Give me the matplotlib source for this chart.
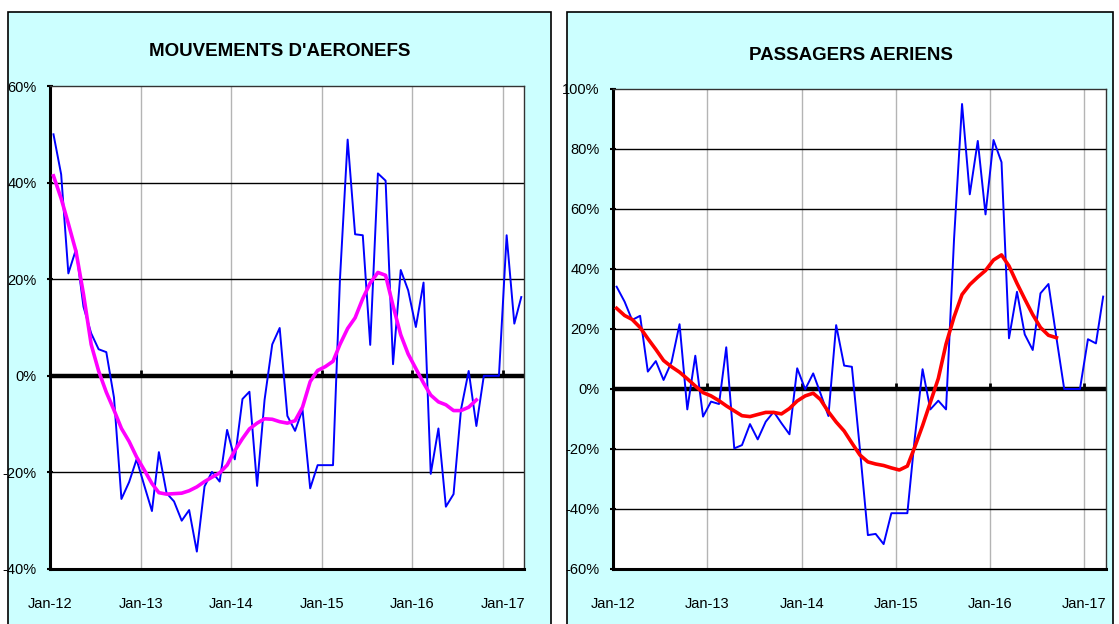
import matplotlib
matplotlib.use('AGG')
import matplotlib.pyplot as plt
import matplotlib.dates as mdates
from matplotlib.patches import Rectangle
from matplotlib.ticker import FuncFormatter, MultipleLocator
import pandas as pd

# monthly series, Jan-12 .. Mar-17 (in %)
mouvements = [50.0, 41.7, 21.2, 26.2, 14.3, 8.8, 5.5, 4.9, -4.5, -25.5,
              -22.0, -17.3, -22.7, -28.0, -15.8, -24.3, -26.0, -30.0, -27.8, -36.4,
              -22.9, -19.9, -21.9, -11.2, -17.3, -4.8, -3.3, -22.8, -5.0, 6.5,
              9.9, -8.3, -11.4, -7.0, -23.3, -18.5, -18.5, -18.5, 20.0, 48.9,
              29.3, 29.1, 6.4, 41.9, 40.4, 2.4, 21.9, 17.7, 10.1, 19.3,
              -20.3, -10.9, -27.1, -24.5, -7.0, 1.0, -10.4, 0.0, 0.0, 0.0,
              29.1, 10.8, 16.3]
mouvements_lisse = [41.4, 36.7, 31.5, 25.7, 16.9, 6.5, 1.0, -3.4, -7.1, -10.9,
                    -13.6, -16.8, -19.5, -22.3, -24.2, -24.5, -24.4, -24.3, -23.8, -23.0,
                    -21.9, -21.0, -20.1, -18.5, -15.5, -13.0, -11.0, -9.8, -8.9, -9.0,
                    -9.5, -9.8, -9.3, -6.5, -1.2, 1.1, 1.9, 3.0, 6.5, 9.8,
                    12.0, 16.0, 19.2, 21.4, 20.8, 14.5, 8.5, 4.5, 1.5, -1.5,
                    -4.0, -5.4, -6.0, -7.2, -7.2, -6.5, -5.0]

passagers = [34.1, 29.1, 23.0, 24.4, 5.8, 9.3, 3.0, 9.0, 21.6, -6.8,
             11.1, -9.2, -4.2, -5.0, 13.9, -19.8, -18.7, -11.7, -16.8, -10.9,
             -7.6, -11.4, -15.1, 6.9, -0.1, 5.2, -1.4, -9.0, 21.3, 7.8,
             7.4, -20.0, -48.7, -48.3, -51.7, -41.4, -41.4, -41.4, -17.0, 6.6,
             -6.8, -3.9, -6.8, 50.0, 95.0, 64.9, 82.7, 58.2, 83.0, 75.6,
             16.9, 32.4, 18.2, 13.0, 31.9, 35.0, 17.0, 0.0, 0.0, 0.0,
             16.6, 15.2, 30.8]
passagers_lisse = [26.9, 24.5, 23.2, 20.5, 16.8, 13.2, 9.5, 7.4, 5.6, 3.4,
                   1.0, -1.2, -2.3, -3.9, -5.6, -7.3, -8.9, -9.2, -8.5, -7.8,
                   -7.8, -8.3, -6.5, -4.0, -2.3, -1.4, -3.5, -7.6, -11.0, -14.0,
                   -18.0, -22.0, -24.3, -25.0, -25.5, -26.3, -27.0, -25.7, -19.5, -12.2,
                   -4.5, 3.5, 15.0, 24.0, 31.5, 34.8, 37.3, 39.5, 43.0, 44.7,
                   41.0, 35.2, 30.0, 24.8, 20.5, 17.9, 17.1]

mois = pd.date_range('2012-01-01', periods=63, freq='MS') + pd.Timedelta(days=14)
annees = pd.date_range('2012-01-01', '2017-01-01', freq='YS')

plt.rcParams['font.family'] = ['Liberation Sans', 'DejaVu Sans']

W, H = 1119, 624
fig = plt.figure(figsize=(W / 100, H / 100), dpi=100, facecolor='white')

# cyan panels
for x0, x1 in [(8, 551), (567, 1113)]:
    fig.add_artist(Rectangle((x0 / W, -0.05), (x1 - x0) / W, 1.05 - 12 / H,
                             transform=fig.transFigure, facecolor='#CCFFFF',
                             edgecolor='black', lw=1.2, zorder=0))


def panel(rect, serie, lisse, couleur, titre, ymin, ymax, title_x, title_y):
    ax = fig.add_axes(rect)
    ax.set_facecolor('white')
    ax.set_xlim(pd.Timestamp('2012-01-01'), pd.Timestamp('2017-03-26'))
    ax.set_ylim(ymin, ymax)
    ax.yaxis.set_major_locator(MultipleLocator(20))
    ax.yaxis.set_major_formatter(FuncFormatter(lambda v, p: '%d%%' % round(v)))
    ax.set_xticks(annees)
    ax.xaxis.set_major_formatter(mdates.DateFormatter('%b-%y'))
    for a in annees:
        ax.axvline(a, color='#B4B4B4', lw=1, zorder=1)
    for v in range(ymin + 20, ymax, 20):
        ax.axhline(v, color='black', lw=1, zorder=1)
    ax.axhline(0, color='black', lw=3.2, zorder=2)
    ax.vlines(annees, 0, (ymax - ymin) * 0.012, color='black', lw=2, zorder=2)
    ax.plot(mois, serie, color='#0000FF', lw=1.4, zorder=3)
    ax.plot(mois[:len(lisse)], lisse, color=couleur, lw=2.6, zorder=4)
    for s in ['left', 'bottom']:
        ax.spines[s].set_linewidth(2.2)
    for s in ['top', 'right']:
        ax.spines[s].set_linewidth(1)
        ax.spines[s].set_color('#333333')
    ax.tick_params(axis='x', length=0, pad=20, labelsize=10.5)
    ax.tick_params(axis='y', direction='inout', length=5, width=1.5, pad=7, labelsize=10.5)
    fig.text(title_x / W, 1 - title_y / H, titre, ha='center', va='center',
             fontsize=13.5, fontweight='bold')
    return ax


panel([50 / W, 55 / H, 474 / W, 483 / H], mouvements, mouvements_lisse, '#FF00FF',
      "MOUVEMENTS D'AERONEFS", -40, 60, 280, 52)
panel([613 / W, 55 / H, 493 / W, 480 / H], passagers, passagers_lisse, '#FF0000',
      'PASSAGERS AERIENS', -60, 100, 851, 55)

plt.savefig('out.png', dpi=100, facecolor='white')
